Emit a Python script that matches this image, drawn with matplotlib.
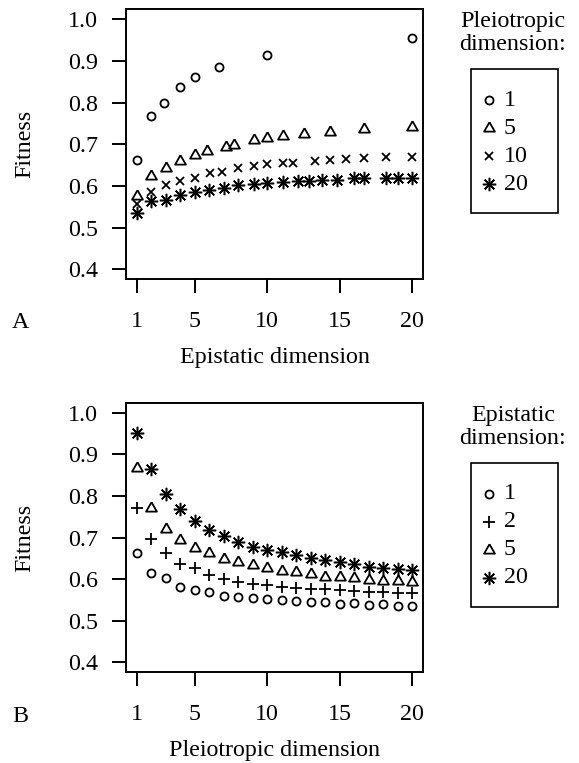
import numpy as np
import matplotlib
matplotlib.use("Agg")
import matplotlib.pyplot as plt
from matplotlib.lines import Line2D
from matplotlib.patches import Rectangle

plt.rcParams["font.family"] = ["Liberation Serif", "DejaVu Serif"]

# panel A: fitness vs epistatic dimension, one series per pleiotropic dimension
epi_p1 = [1, 2, 2.86, 4, 5, 6.67, 10, 20]
fit_p1 = [0.662, 0.768, 0.798, 0.838, 0.861, 0.885, 0.914, 0.954]

epi_p5 = [1, 2, 3.03, 4, 5, 5.88, 7.14, 7.69, 9.09, 10, 11.1, 12.5, 14.3, 16.7, 20]
fit_p5 = [0.575, 0.624, 0.642, 0.660, 0.674, 0.683, 0.694, 0.698, 0.710, 0.715,
          0.720, 0.725, 0.730, 0.737, 0.741]

epi_p10 = [1, 2, 2.99, 4, 5, 6.06, 6.9, 8, 9.09, 10, 11.1, 11.8, 13.3, 14.3, 15.4,
           16.7, 18.2, 20]
fit_p10 = [0.556, 0.586, 0.602, 0.612, 0.620, 0.630, 0.634, 0.642, 0.649, 0.652,
           0.656, 0.656, 0.661, 0.663, 0.665, 0.666, 0.669, 0.670]

epi_p20 = [1, 2, 3.01, 4, 5, 5.97, 7.02, 8, 9.09, 10, 11.1, 12.1, 12.9, 13.8, 14.8,
           16, 16.7, 18.2, 19.05, 20]
fit_p20 = [0.535, 0.563, 0.567, 0.578, 0.586, 0.591, 0.596, 0.602, 0.604, 0.606,
           0.609, 0.611, 0.612, 0.614, 0.615, 0.618, 0.618, 0.618, 0.619, 0.620]

# panel B: fitness vs pleiotropic dimension, one series per epistatic dimension
pleio = list(range(1, 21))
fit_e1 = [0.662, 0.614, 0.602, 0.582, 0.573, 0.568, 0.560, 0.557, 0.554, 0.553,
          0.550, 0.548, 0.546, 0.546, 0.541, 0.542, 0.538, 0.539, 0.536, 0.536]
fit_e2 = [0.770, 0.696, 0.662, 0.636, 0.626, 0.610, 0.601, 0.593, 0.589, 0.585,
          0.582, 0.578, 0.577, 0.576, 0.574, 0.571, 0.570, 0.569, 0.566, 0.566]
fit_e5 = [0.866, 0.770, 0.721, 0.694, 0.674, 0.663, 0.649, 0.642, 0.634, 0.626,
          0.619, 0.616, 0.613, 0.606, 0.605, 0.602, 0.598, 0.596, 0.596, 0.592]
fit_e20 = [0.952, 0.864, 0.805, 0.768, 0.739, 0.718, 0.704, 0.689, 0.678, 0.670,
           0.664, 0.658, 0.650, 0.646, 0.640, 0.637, 0.630, 0.626, 0.624, 0.621]

labels_a = ["1", "5", "10", "20"]
labels_b = ["1", "2", "5", "20"]

W, H = 579, 763
FS = 17.3

# R-like symbols
tri = [(0, 1), (-0.866, -0.5), (0.866, -0.5), (0, 1)]
circle = dict(marker="o", ms=5.8, mew=1.3)
triangle = dict(marker=tri, ms=9.0, mew=1.3)
cross = dict(marker="x", ms=6.4, mew=1.3)
plus = dict(marker="+", ms=8.6, mew=1.3)
star = dict(marker=(8, 2, 0), ms=9.6, mew=1.1)

fig = plt.figure(figsize=(W / 100, H / 100), dpi=100)


def px_axes(left, top, right, bottom):
    return fig.add_axes([left / W, 1 - bottom / H, (right - left) / W, (bottom - top) / H])


def style_axes(ax, xlabel):
    ax.set_xlim(0.24, 20.76)
    ax.set_ylim(0.376, 1.024)
    ax.set_xticks([1, 5, 10, 15, 20])
    ax.set_yticks([0.4, 0.5, 0.6, 0.7, 0.8, 0.9, 1.0])
    ax.set_yticklabels(["0.4", "0.5", "0.6", "0.7", "0.8", "0.9", "1.0"])
    for s in ax.spines.values():
        s.set_linewidth(1.4)
    ax.tick_params(direction="out", length=10, width=1.4, labelsize=FS)
    ax.tick_params(axis="x", pad=13)
    ax.tick_params(axis="y", pad=10)
    ax.set_ylabel("Fitness", fontsize=FS)
    ax.yaxis.set_label_coords(-0.305, 0.5)
    ax.set_xlabel(xlabel, fontsize=FS)
    ax.xaxis.label.set_va("center")
    ax.xaxis.set_label_coords(0.5, -0.29)


def draw(ax, x, y, st):
    ax.plot(x, y, linestyle="none", color="black", mfc="none", **st)


def legend(title1, title2, top, styles, labels):
    fig.text(513 / W, 1 - (top - 47.6) / H, title1, fontsize=FS, ha="center", va="center")
    fig.text(513 / W, 1 - (top - 24.3) / H, title2, fontsize=FS, ha="center", va="center")
    fig.add_artist(Rectangle((470.7 / W, 1 - (top + 144) / H), 87.6 / W, 144 / H,
                             transform=fig.transFigure, fill=False, lw=1.2, ec="black"))
    for i, (st, lab) in enumerate(zip(styles, labels)):
        yy = 1 - (top + 31 + 28 * i) / H
        fig.add_artist(Line2D([489.3 / W], [yy], transform=fig.transFigure, linestyle="none",
                              color="black", mfc="none", **st))
        fig.text(504 / W, yy, lab, fontsize=FS, ha="left", va="center")


axA = px_axes(125.7, 9.3, 423.3, 279.3)
draw(axA, epi_p1, fit_p1, circle)
draw(axA, epi_p5, fit_p5, triangle)
draw(axA, epi_p10, fit_p10, cross)
draw(axA, epi_p20, fit_p20, star)
style_axes(axA, "Epistatic dimension")
legend("Pleiotropic", "dimension:", 69.3, [circle, triangle, cross, star], labels_a)
fig.text(20.7 / W, 1 - 322.5 / H, "A", fontsize=FS, ha="center", va="center")

axB = px_axes(125.7, 402.7, 423.3, 672.3)
draw(axB, pleio, fit_e1, circle)
draw(axB, pleio, fit_e2, plus)
draw(axB, pleio, fit_e5, triangle)
draw(axB, pleio, fit_e20, star)
style_axes(axB, "Pleiotropic dimension")
legend("Epistatic", "dimension:", 462.7, [circle, plus, triangle, star], labels_b)
fig.text(20.7 / W, 1 - 716 / H, "B", fontsize=FS, ha="center", va="center")

fig.savefig("out.png", dpi=100)
